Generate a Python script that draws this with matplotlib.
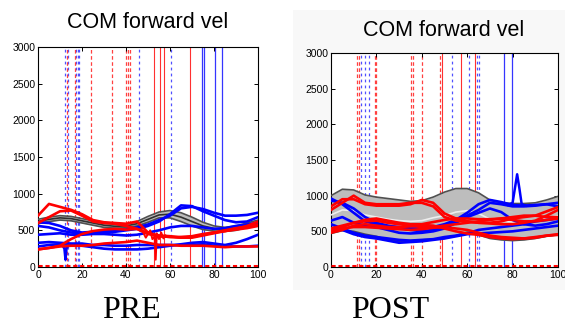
import numpy as np
import matplotlib
matplotlib.use("Agg")
import matplotlib.pyplot as plt

plt.rcParams["lines.scale_dashes"] = False

# ---------------- data ----------------
x = [0, 5, 10, 15, 20, 25, 30, 35, 40, 45, 50, 55, 60, 65, 70, 75, 80, 85, 90, 95, 100]

# PRE panel
pre_band_upper = [650, 680, 700, 690, 660, 630, 600, 580, 585, 620, 690, 750, 770, 740, 680, 610, 560, 540, 560, 600, 640]
pre_band_lower = [590, 620, 640, 630, 600, 570, 540, 530, 535, 560, 610, 670, 670, 620, 560, 510, 490, 485, 500, 540, 580]
pre_band_mean = [620, 650, 670, 660, 630, 600, 570, 555, 560, 590, 650, 710, 720, 680, 620, 560, 525, 512, 530, 570, 610]

pre_blue = [
    [560, 540, 500, 470, 460, 470, 470, 480, 500, 520, 560, 620, 720, 840, 830, 760, 700, 640, 610, 620, 680],
    [610, 600, 560, 500, 470, 480, 490, 500, 510, 540, 580, 640, 700, 800, 820, 790, 740, 700, 700, 710, 740],
    [440, 450, 460, 440, 440, 450, 450, 440, 430, 440, 470, 500, 540, 560, 560, 540, 520, 530, 560, 580, 600],
    [280, 300, 310, 300, 290, 270, 250, 240, 240, 240, 250, 270, 290, 310, 330, 340, 320, 300, 330, 380, 440],
    [330, 340, 330, 320, 320, 300, 300, 290, 290, 300, 300, 300, 300, 300, 300, 310, 290, 280, 280, 280, 290],
]
pre_red = [
    [700, 860, 820, 780, 720, 640, 610, 600, 590, 620, 470, 420, 410, 400, 400, 430, 460, 490, 520, 560, 620],
    [600, 680, 760, 770, 700, 620, 600, 590, 560, 520, 450, 420, 410, 410, 420, 450, 470, 490, 510, 530, 560],
    [240, 260, 290, 380, 450, 490, 510, 520, 510, 520, 460, 430, 420, 400, 410, 440, 470, 500, 530, 550, 580],
    [240, 260, 280, 290, 290, 300, 320, 330, 340, 360, 330, 300, 300, 290, 290, 290, 280, 270, 280, 280, 280],
]
pre_blue_dip_x = [11, 12, 12.5, 13, 14]
pre_blue_dip_y = [300, 250, 100, 260, 300]
pre_red_jag_x = [47, 49, 51, 52, 53, 53.5, 54, 55, 56, 57, 58]
pre_red_jag_y = [520, 400, 500, 380, 420, 100, 460, 380, 470, 390, 430]

pre_v_blue_dot = [12.4, 13.8, 17.3, 18.0, 18.6, 45.9, 60.3]
pre_v_red_dash = [13.0, 16.7, 24.1, 33.6, 40.1, 40.8, 41.8]
pre_v_red_solid = [52.9, 55.6, 57.4, 69.1]
pre_v_blue_solid = [74.5, 75.5, 80.3, 83.6]

# POST panel
post_band_upper = [1000, 1090, 1080, 1010, 980, 960, 940, 920, 930, 980, 1050, 1100, 1100, 1040, 940, 900, 890, 890, 900, 940, 990]
post_band_lower = [470, 510, 500, 460, 430, 380, 360, 370, 380, 390, 400, 440, 490, 450, 400, 380, 370, 380, 400, 430, 450]
post_band_mean = [730, 800, 790, 730, 700, 670, 650, 640, 650, 690, 720, 770, 790, 750, 670, 640, 630, 640, 650, 690, 720]

post_blue = [
    [960, 880, 760, 640, 600, 570, 560, 540, 540, 560, 600, 660, 760, 880, 940, 910, 870, 860, 870, 880, 850],
    [930, 900, 820, 700, 620, 580, 550, 520, 500, 520, 560, 640, 720, 800, 900, 880, 850, 850, 860, 880, 900],
    [650, 700, 620, 580, 560, 520, 480, 470, 480, 500, 540, 620, 700, 760, 820, 770, 660, 600, 580, 600, 640],
    [600, 540, 480, 440, 420, 400, 380, 370, 380, 390, 420, 440, 470, 520, 540, 560, 580, 600, 640, 660, 680],
    [550, 520, 460, 420, 400, 370, 340, 350, 360, 380, 400, 430, 460, 470, 480, 490, 500, 520, 540, 560, 580],
]
post_red = [
    [800, 900, 1000, 900, 880, 880, 880, 900, 900, 850, 700, 650, 640, 620, 620, 640, 680, 700, 720, 780, 840],
    [850, 950, 950, 880, 860, 860, 860, 880, 940, 900, 750, 680, 640, 620, 610, 600, 600, 620, 650, 720, 800],
    [540, 580, 620, 660, 680, 650, 620, 600, 600, 630, 660, 680, 680, 670, 670, 680, 700, 720, 720, 700, 700],
    [500, 560, 620, 640, 650, 620, 600, 580, 560, 560, 580, 600, 620, 640, 660, 680, 660, 640, 640, 660, 680],
    [520, 540, 560, 560, 550, 540, 530, 520, 530, 550, 560, 540, 520, 480, 440, 420, 410, 400, 410, 440, 460],
    [480, 520, 580, 600, 580, 560, 560, 570, 590, 580, 540, 500, 470, 450, 420, 400, 390, 400, 420, 440, 450],
]
post_blue_spike_x = [78, 80, 81, 82, 83, 84, 86]
post_blue_spike_y = [870, 900, 1100, 1300, 1100, 880, 860]

post_v_blue_dot = [13.1, 15.1, 16.7, 53.3, 60.7, 64.3, 65.2]
post_v_red_dash = [11.5, 12.2, 19.2, 19.7, 35.4, 36.1, 40.2, 48.1]
post_v_red_solid = [48.8, 57.3, 63.3]
post_v_blue_solid = [76.1, 79.9]

xticks = [0, 20, 40, 60, 80, 100]
yticks = [0, 500, 1000, 1500, 2000, 2500, 3000]

# ---------------- figure ----------------
fig = plt.figure(figsize=(5.65, 3.25), dpi=100)
fig.patch.set_facecolor("white")

# faint grey backdrop behind the second panel
bg = fig.add_axes([293 / 565, 1 - 290 / 325, 272 / 565, 280 / 325], zorder=-5)
bg.set_facecolor("#f8f8f8")
bg.set_xticks([])
bg.set_yticks([])
for sp in bg.spines.values():
    sp.set_visible(False)


def draw_panel(ax, upper, lower, mean, blues, reds, vbd, vrd, vrs, vbs,
               mean_color):
    for v in vbd:
        ax.axvline(v, color="#5050ff", ls=(0, (2.0, 2.3)), lw=0.9, zorder=1)
    for v in vrd:
        ax.axvline(v, color="#ff4040", ls=(0, (2.6, 1.8)), lw=0.9, zorder=1)
    for v in vrs:
        ax.axvline(v, color="#ff3030", ls="-", lw=0.8, zorder=1)
    for v in vbs:
        ax.axvline(v, color="#3535ff", ls="-", lw=0.9, zorder=1)

    ax.fill_between(x, lower, upper, color="#bdbdbd", lw=0, zorder=2)
    ax.plot(x, upper, color="#505050", lw=1.2, zorder=3)
    ax.plot(x, lower, color="#505050", lw=1.2, zorder=3)
    ax.plot(x, mean, color=mean_color, lw=1.2, zorder=3)

    for s in blues:
        ax.plot(x, s, color="#0000ff", lw=1.9, zorder=4)
    for s in reds:
        ax.plot(x, s, color="#ff0000", lw=1.9, zorder=5)

    ax.plot([0, 100], [12, 12], color="#ff0000", ls=(0, (3, 2)), lw=2.2,
            zorder=6)

    ax.set_xlim(0, 100)
    ax.set_ylim(0, 3000)
    ax.set_xticks(xticks)
    ax.set_yticks(yticks)
    ax.tick_params(direction="in", length=3, width=0.7, top=True, right=True,
                   pad=2, labelsize=7.5)
    for lab in ax.get_xticklabels() + ax.get_yticklabels():
        lab.set_fontfamily("Liberation Sans")
    for sp in ax.spines.values():
        sp.set_linewidth(0.8)
    ax.set_facecolor("white")


ax1 = fig.add_axes([38 / 565, 58 / 325, 220 / 565, 220 / 325])
draw_panel(ax1, pre_band_upper, pre_band_lower, pre_band_mean, pre_blue,
           pre_red, pre_v_blue_dot, pre_v_red_dash, pre_v_red_solid,
           pre_v_blue_solid, "#303030")
ax1.plot(pre_blue_dip_x, pre_blue_dip_y, color="#0000ff", lw=1.8, zorder=4)
ax1.plot(pre_red_jag_x, pre_red_jag_y, color="#ff0000", lw=1.4, zorder=5)

ax2 = fig.add_axes([331 / 565, 58 / 325, 227 / 565, 214 / 325])
draw_panel(ax2, post_band_upper, post_band_lower, post_band_mean, post_blue,
           post_red, post_v_blue_dot, post_v_red_dash, post_v_red_solid,
           post_v_blue_solid, "#eeeeee")
ax2.plot(post_blue_spike_x, post_blue_spike_y, color="#0000ff", lw=1.8,
         zorder=4)

fig.text(147.5 / 565, 1 - 23 / 325, "COM forward vel", ha="center",
         va="center", family="Liberation Sans", fontsize=15.5)
fig.text(443.5 / 565, 1 - 30 / 325, "COM forward vel", ha="center",
         va="center", family="Liberation Sans", fontsize=15.5)
fig.text(131 / 565, 1 - 311 / 325, "PRE", ha="center", va="center",
         family="Liberation Serif", fontsize=23)
fig.text(390.5 / 565, 1 - 311 / 325, "POST", ha="center", va="center",
         family="Liberation Serif", fontsize=23)

fig.savefig("out.png", dpi=100)
